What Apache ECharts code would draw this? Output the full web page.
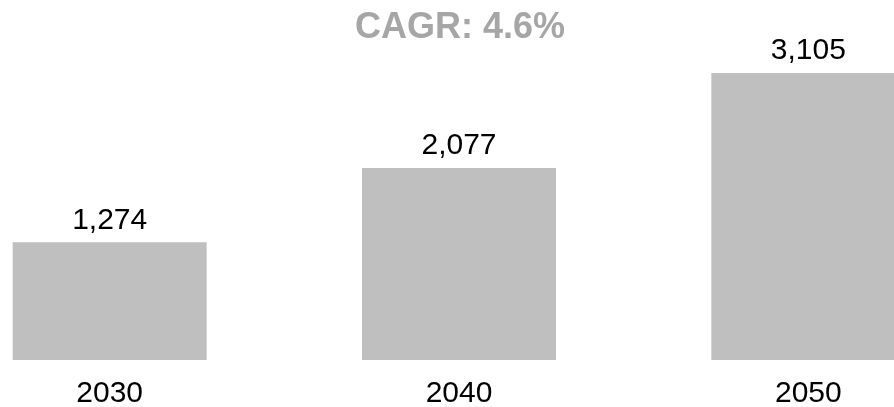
<!DOCTYPE html>
<html>
<head>
<meta charset="utf-8">
<style>
  html, body { margin: 0; padding: 0; background: #ffffff; }
  #chart { width: 894px; height: 407px; }
</style>
<script src="https://cdn.jsdelivr.net/npm/echarts@6/dist/echarts.min.js"></script>
</head>
<body>
<div id="chart"></div>
<script>
// Projected values by year
const years = ['2030', '2040', '2050'];
const values = [1274, 2077, 3105];
const cagrText = 'CAGR: 4.6%';

const FONT = '"Liberation Sans", Arial, Helvetica, sans-serif';

const chart = echarts.init(document.getElementById('chart'), null, { renderer: 'canvas' });

chart.setOption({
  backgroundColor: '#ffffff',
  animation: false,
  title: {
    text: cagrText,
    left: 455,
    top: 5,
    textAlign: 'center',
    textStyle: {
      fontFamily: FONT,
      fontSize: 36,
      fontWeight: 'bold',
      color: '#a6a6a6'
    }
  },
  // the plot area runs past both edges so the last bar is cut by the frame
  grid: {
    left: -65,
    right: -89,
    top: 73,
    bottom: 47,
    containLabel: false,
    outerBoundsMode: 'none'
  },
  xAxis: {
    type: 'category',
    data: years,
    axisLine: { show: false },
    axisTick: { show: false },
    axisLabel: {
      margin: 19,
      fontFamily: FONT,
      fontSize: 30,
      color: '#000000'
    }
  },
  yAxis: {
    type: 'value',
    min: 0,
    max: 'dataMax',
    show: false,
    splitLine: { show: false }
  },
  series: [{
    type: 'bar',
    data: values,
    barWidth: 194,
    itemStyle: { color: '#bfbfbf' },
    label: {
      show: true,
      position: 'top',
      distance: 7,
      fontFamily: FONT,
      fontSize: 30,
      color: '#000000',
      formatter: p => p.value.toLocaleString('en-US')
    }
  }]
});
</script>
</body>
</html>
